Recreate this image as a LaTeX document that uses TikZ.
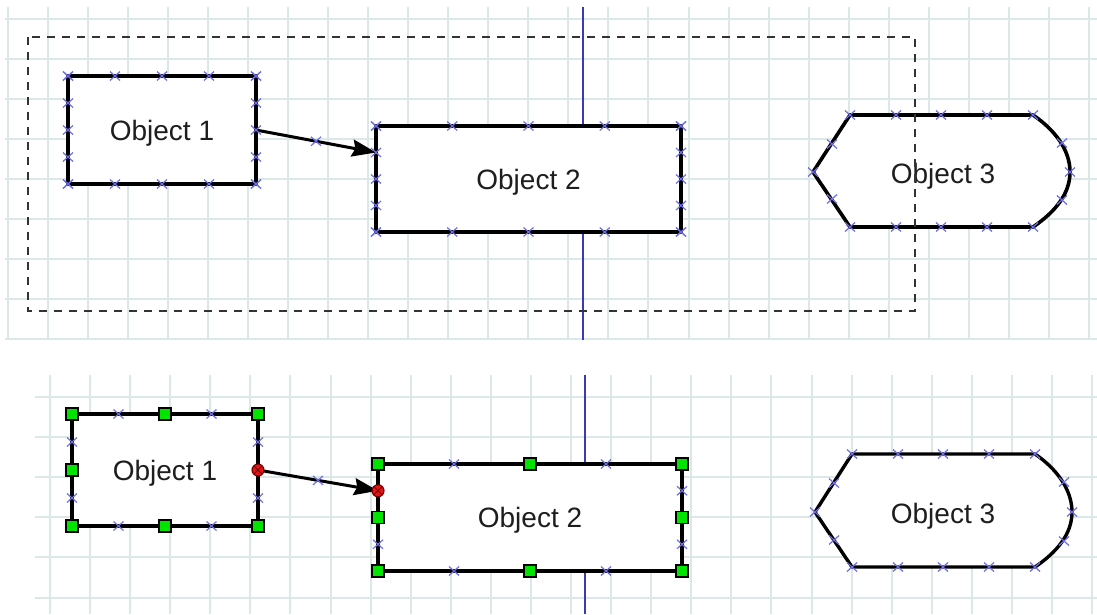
\documentclass[tikz,border=0pt]{standalone}
\usepackage{fontspec}
\setmainfont{Liberation Sans}
\usetikzlibrary{arrows.meta,calc}
\definecolor{gridc}{HTML}{DCE8E8}
\definecolor{guide}{HTML}{3A3AB8}
\definecolor{xcol}{HTML}{6F6FE8}
\definecolor{hgreen}{HTML}{00E400}
\definecolor{hred}{HTML}{E81414}
\definecolor{txt}{HTML}{1E1E1E}
\begin{document}
\begin{tikzpicture}[x=1pt,y=-1pt,
  obj/.style={draw=black, line width=3.8pt, fill=white, outer sep=0pt, inner sep=0pt,
    font=\fontsize{28}{30}\selectfont, text=txt, text depth=0pt},
  objtext/.style={font=\fontsize{28}{30}\selectfont, text=txt, inner sep=0pt, text depth=0pt},
  objpath/.style={draw=black, line width=3.6pt, fill=white, line join=round},
  gridline/.style={draw=gridc, line width=2pt},
  guideline/.style={draw=guide, line width=2pt},
  conn/.style={line width=3pt, -{Stealth[length=24pt,width=17pt,inset=3pt]}},
  selbox/.style={draw=black!80, line width=2.2pt, dash pattern=on 8pt off 7pt},
  xm/.pic={\draw[xcol, line width=1.2pt] (-5,-4.5)--(5,4.5) (-5,4.5)--(5,-4.5);},
  handle/.pic={\draw[black, line width=1.1pt, fill=hgreen] (-6,-6) rectangle (6,6);},
  redh/.pic={\draw[black!60!red, line width=1.1pt, fill=hred] (0,0) circle (6);
             \draw[black!60!red, line width=0.9pt] (-3.5,-3.5)--(3.5,3.5) (-3.5,3.5)--(3.5,-3.5);}
]
\useasboundingbox (0,0) rectangle (1097,614);
\fill[white] (0,0) rectangle (1097,614);

% ---------- grids ----------
\foreach \k in {0,...,27} \draw[gridline] ({7.5+40.06*\k},7) -- ({7.5+40.06*\k},340);
\foreach \k in {0,...,8} \draw[gridline] (5,{18.5+40.1*\k}) -- (1097,{18.5+40.1*\k});
\foreach \k in {0,...,26} \draw[gridline] ({50+40.08*\k},375) -- ({50+40.08*\k},614);
\foreach \k in {0,...,5} \draw[gridline] (35,{397+40.1*\k}) -- (1097,{397+40.1*\k});

% ---------- guide lines ----------
\coordinate (g1a) at (583,7);   \coordinate (g1b) at (583,340);
\coordinate (g2a) at (585,375); \coordinate (g2b) at (585,614);
\draw[guideline] (g1a) -- (g1b);
\draw[guideline] (g2a) -- (g2b);

% ================= TOP PANEL =================
\node[obj, minimum width=188pt, minimum height=108pt] (a1) at (162,130) {Object 1};
\node[obj, minimum width=305pt, minimum height=106pt] (a2) at (528.5,179) {Object 2};
\draw[objpath] (813,172) -- (850,115) -- (1033,115)
  .. controls (1055,130) and (1070,150) .. (1070,172)
  .. controls (1070,194) and (1055,212) .. (1033,227) -- (850,227) -- cycle;
\node[objtext] (a3) at (943,173) {Object 3};

\coordinate (a2in) at ($(a2.north west)!0.25!(a2.south west)$);
\draw[conn] (a1.east) -- (a2in);
\pic at ($(a1.east)!0.5!(a2in)$) {xm};

\foreach \n in {a1,a2}{
  \foreach \t in {0,0.25,0.5,0.75,1}{
    \pic at ($(\n.north west)!\t!(\n.north east)$) {xm};
    \pic at ($(\n.south west)!\t!(\n.south east)$) {xm};
    \pic at ($(\n.north west)!\t!(\n.south west)$) {xm};
    \pic at ($(\n.north east)!\t!(\n.south east)$) {xm};
  }
}
\foreach \p in {(850,115),(896,115),(941,115),(987,115),(1033,115),
                (850,227),(896,227),(941,227),(987,227),(1033,227),
                (832,144),(813,172),(832,199),(1062,143),(1070,172),(1062,200)}
  \pic at \p {xm};

% ================= BOTTOM PANEL =================
\node[obj, line width=3.3pt, minimum width=186pt, minimum height=112pt] (b1) at (165,470) {Object 1};
\node[obj, line width=3.3pt, minimum width=304pt, minimum height=107pt] (b2) at (530,517.5) {Object 2};
\draw[objpath, line width=3.4pt] (815,512) -- (852,454) -- (1035,454)
  .. controls (1057,469) and (1072,490) .. (1072,512)
  .. controls (1072,534) and (1057,552) .. (1035,567) -- (852,567) -- cycle;
\node[objtext] (b3) at (943,513) {Object 3};

\coordinate (b2in) at ($(b2.north west)!0.25!(b2.south west)$);
\draw[conn] (b1.east) -- (b2in);
\pic at ($(b1.east)!0.5!(b2in)$) {xm};

\foreach \n in {b1,b2}{
  \foreach \t in {0.25,0.75}{
    \pic at ($(\n.north west)!\t!(\n.north east)$) {xm};
    \pic at ($(\n.south west)!\t!(\n.south east)$) {xm};
    \pic at ($(\n.north west)!\t!(\n.south west)$) {xm};
    \pic at ($(\n.north east)!\t!(\n.south east)$) {xm};
  }
}
\foreach \p in {(852,454),(898,454),(943,454),(989,454),(1035,454),
                (852,567),(898,567),(943,567),(989,567),(1035,567),
                (834,483),(815,512),(834,540),(1064,482),(1072,512),(1064,541)}
  \pic at \p {xm};

\foreach \a in {north west,north,north east,west,south west,south,south east}
  \pic at (b1.\a) {handle};
\foreach \a in {north west,north,north east,west,east,south west,south,south east}
  \pic at (b2.\a) {handle};
\pic at (b1.east) {redh};
\pic at (b2in) {redh};

% ---------- selection rectangle (top) ----------
\coordinate (s1) at (28,37);
\coordinate (s2) at (915,311);
\draw[selbox] (s1) rectangle (s2);
\end{tikzpicture}
\end{document}
